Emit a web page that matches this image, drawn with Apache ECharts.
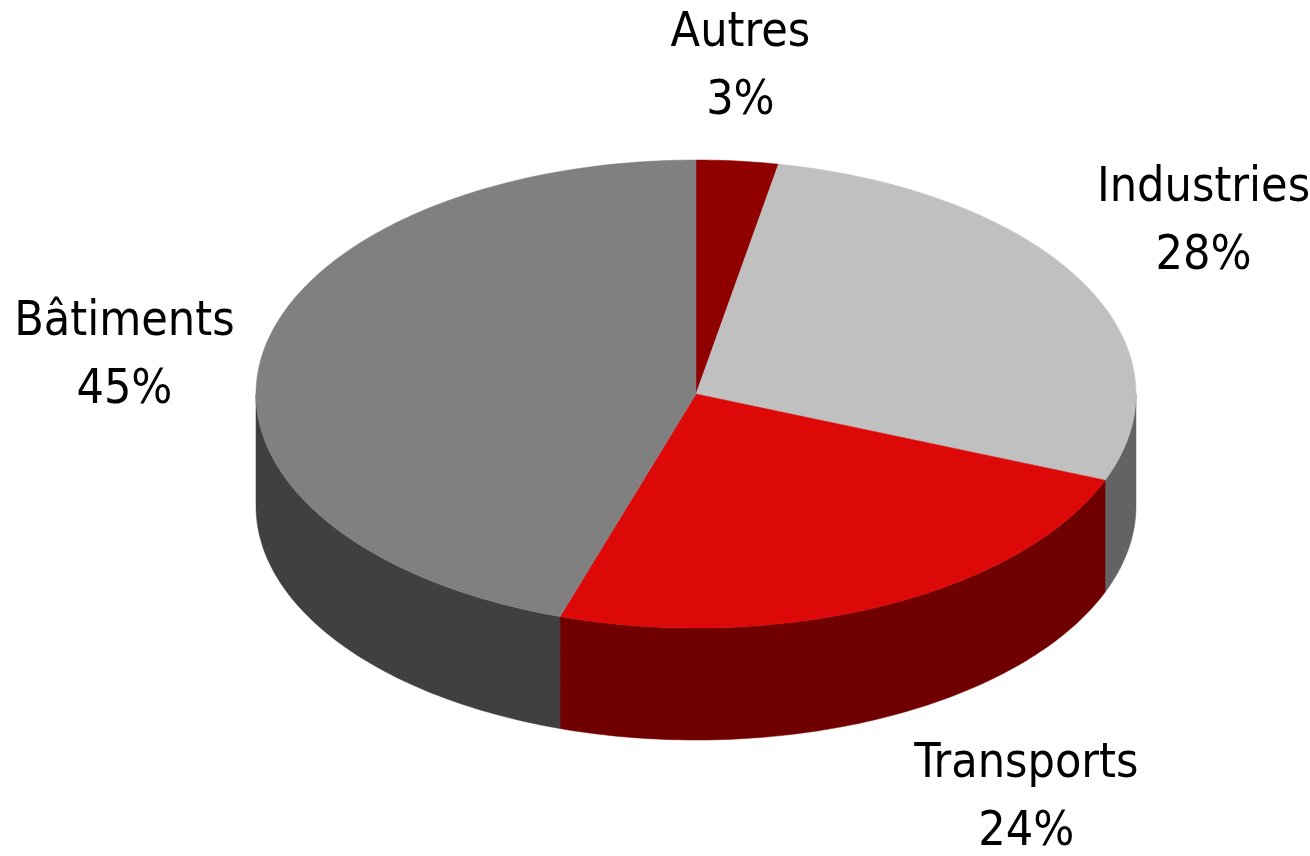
<!DOCTYPE html>
<html>
<head>
<meta charset="utf-8">
<script src="https://cdn.jsdelivr.net/npm/echarts@6/dist/echarts.min.js"></script>
<style>
  html, body { margin: 0; padding: 0; background: #ffffff; }
  #chart { width: 1310px; height: 856px; }
</style>
</head>
<body>
<div id="chart"></div>
<script>
// ---- Data ----
const categories = ['Autres', 'Industries', 'Transports', 'Bâtiments'];
const values = [3, 28, 24, 45];
const topColors = ['#900000', '#C0C0C0', '#DD0808', '#808080'];
const sideColors = ['#5A0000', '#636363', '#700000', '#404040'];

// ---- Layout (3D pie projection) ----
const CX = 696, CY = 394, RX = 440, RY = 234, DEPTH = 112;
const FONT = '"DejaVu Sans Condensed", "DejaVu Sans", sans-serif';
// label block centre, relative to the slice's rim point at its mid angle
const labelNudge = [[3, -94], [122, -59], [143, 81], [-137, -1]];

const total = values.reduce((a, b) => a + b, 0);
const cumStart = [];
values.reduce((acc, v, i) => { cumStart[i] = acc; return acc + v; }, 0);

function pt(t, dz) {
  return [CX + RX * Math.sin(t), CY - RY * Math.cos(t) + (dz || 0)];
}
function arc(a, b, dz) {
  const n = Math.max(2, Math.ceil((b - a) / (Math.PI / 180)));
  const pts = [];
  for (let k = 0; k <= n; k++) pts.push(pt(a + (b - a) * k / n, dz));
  return pts;
}

const chart = echarts.init(document.getElementById('chart'), null, { renderer: 'canvas' });

const option = {
  backgroundColor: '#ffffff',
  animation: false,
  series: [{
    type: 'custom',
    coordinateSystem: 'none',
    silent: true,
    data: values.map((v, i) => ({ value: v, name: categories[i] })),
    renderItem: function (params, api) {
      const i = params.dataIndex;
      const v = api.value(0);
      const start = cumStart[i] / total * Math.PI * 2;
      const end = start + v / total * Math.PI * 2;
      const children = [];

      // outer wall (only the front half is visible)
      const a = Math.max(start, Math.PI / 2);
      const b = Math.min(end, Math.PI * 3 / 2);
      if (b > a) {
        const topRim = arc(a, b, 0);
        const botRim = arc(a, b, DEPTH).reverse();
        children.push({
          type: 'polygon',
          shape: { points: topRim.concat(botRim) },
          style: { fill: sideColors[i], stroke: sideColors[i], lineWidth: 0.5 },
          z2: 1
        });
      }

      // top face
      children.push({
        type: 'polygon',
        shape: { points: [[CX, CY]].concat(arc(start, end, 0)) },
        style: { fill: topColors[i], stroke: topColors[i], lineWidth: 0.5 },
        z2: 2
      });

      // label
      const mid = (start + end) / 2;
      const c = Math.cos(mid);
      const rim = pt(mid, c < 0 ? DEPTH : 0);
      children.push({
        type: 'text',
        style: {
          text: categories[i] + '\n' + Math.round(v / total * 100) + '%',
          x: rim[0] + labelNudge[i][0],
          y: rim[1] + labelNudge[i][1],
          align: 'center',
          verticalAlign: 'middle',
          fontSize: 48,
          fontFamily: FONT,
          lineHeight: 68,
          fill: '#000000'
        },
        z2: 3
      });
      return { type: 'group', children: children };
    }
  }]
};

chart.setOption(option);
</script>
</body>
</html>
